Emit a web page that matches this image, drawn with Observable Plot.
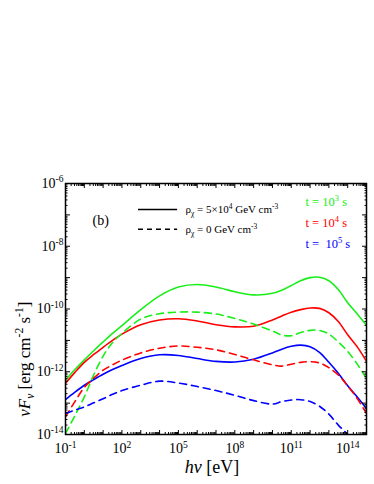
<!DOCTYPE html>
<html><head><meta charset="utf-8">
<script src="https://cdn.jsdelivr.net/npm/d3@7"></script>
<script src="https://cdn.jsdelivr.net/npm/@observablehq/plot@0.6"></script>
<style>html,body{margin:0;padding:0;background:#fff}svg{display:block}
#chart svg, #chart svg text {font-family: "Liberation Serif", "Times New Roman", serif !important;}</style>
</head><body><div id="chart"></div>
<script>
// photon energy grid: log10(hν / eV)
const logE = [-1,-0.5,0,0.5,1,1.5,2,3,4,5,6,7,8,9,10,10.5,11,11.5,12,12.5,13,13.5,14,14.5,15];
// log10(νFν / erg cm^-2 s^-1)
const solid_t1e3 = [-12.27,-11.93,-11.62,-11.33,-11.05,-10.78,-10.53,-10.02,-9.58,-9.3,-9.22,-9.3,-9.45,-9.55,-9.5,-9.4,-9.25,-9.1,-9.0,-8.99,-9.1,-9.38,-9.8,-10.15,-10.52];
const solid_t1e4 = [-12.37,-12.02,-11.7,-11.45,-11.22,-11.0,-10.8,-10.5,-10.35,-10.31,-10.38,-10.5,-10.57,-10.55,-10.35,-10.22,-10.1,-10.02,-9.97,-9.98,-10.12,-10.4,-10.82,-11.2,-11.67];
const solid_t1e5 = [-12.89,-12.65,-12.43,-12.25,-12.08,-11.93,-11.8,-11.58,-11.46,-11.48,-11.58,-11.67,-11.69,-11.6,-11.4,-11.28,-11.19,-11.15,-11.2,-11.38,-11.7,-12.05,-12.45,-12.8,-13.18];
const dash_t1e3 = [-13.97,-13.4,-12.8,-12.1,-11.5,-11.07,-10.78,-10.32,-10.15,-10.1,-10.1,-10.16,-10.3,-10.48,-10.7,-10.83,-10.85,-10.75,-10.68,-10.68,-10.8,-11.05,-11.35,-11.75,-12.22];
const dash_t1e4 = [-13.44,-12.95,-12.5,-12.2,-11.95,-11.78,-11.63,-11.4,-11.25,-11.18,-11.22,-11.3,-11.45,-11.62,-11.78,-11.82,-11.76,-11.7,-11.68,-11.72,-11.87,-12.1,-12.45,-12.85,-13.33];
const dash_t1e5 = [-13.33,-13.22,-13.12,-12.99,-12.86,-12.72,-12.6,-12.43,-12.3,-12.36,-12.47,-12.6,-12.75,-12.92,-13.03,-12.95,-12.9,-12.89,-12.95,-13.1,-13.35,-13.7,-14.0,-14.35,-14.7];

const xTickExps = [-1,2,5,8,11,14];
const yTickExps = [-14,-12,-10,-8,-6];
const xDecades = [-1,0,1,2,3,4,5,6,7,8,9,10,11,12,13,14,15];
const yDecades = [-14,-13,-12,-11,-10,-9,-8,-7,-6];
const legendRho = ["ρ_{χ} = 5×10^{4} GeV cm^{-3}", "ρ_{χ} = 0 GeV cm^{-3}"];
const legendTime = ["t = 10^{3} s", "t = 10^{4} s", "t =  10^{5} s"];
const panelLabel = "(b)";
const xTitle = "*hν* [eV]";
const yTitle = "*ν**F*_{*ν*} [erg cm^{-2} s^{-1}]";

const GREEN = "#19ee19", RED = "#ff0000", BLUE = "#0000ff";
const FONT = "Liberation Serif";

const series = [
  {v: solid_t1e3, c: GREEN, d: null},
  {v: solid_t1e4, c: RED, d: null},
  {v: solid_t1e5, c: BLUE, d: null},
  {v: dash_t1e3, c: GREEN, d: "7,5"},
  {v: dash_t1e4, c: RED, d: "7,5"},
  {v: dash_t1e5, c: BLUE, d: "7,5"}
];

const pow = e => Math.pow(10, e);
const minorOf = decs => decs.slice(0, -1).flatMap(e => [2,3,4,5,6,7,8,9].map(k => k * pow(e)));

const lineMarks = series.map(s => Plot.line(logE.map((e, i) => ({x: pow(e), y: pow(s.v[i])})), {
  x: "x", y: "y", stroke: s.c, strokeWidth: 1.6, strokeDasharray: s.d, curve: "catmull-rom", clip: true
}));

const expFmt = v => "10^{" + Math.round(Math.log10(v)) + "}";
const timeColors = [GREEN, RED, BLUE];

const chart = Plot.plot({
  width: 374, height: 484,
  marginLeft: 65, marginRight: 8, marginTop: 183, marginBottom: 50,
  x: {type: "log", domain: [1e-1, 1e15]},
  y: {type: "log", domain: [1e-14, 1e-6]},
  style: {fontFamily: FONT, background: "#fff", color: "#000"},
  marks: [
    ...lineMarks,
    // inward ticks
    Plot.axisY(yDecades.map(pow), {anchor: "left", tickSize: -5, fill: "none", label: null}),
    Plot.axisY(yDecades.map(pow), {anchor: "right", tickSize: -5, fill: "none", label: null}),
    Plot.axisY(minorOf(yDecades), {anchor: "left", tickSize: -2.5, fill: "none", label: null}),
    Plot.axisY(minorOf(yDecades), {anchor: "right", tickSize: -2.5, fill: "none", label: null}),
    Plot.axisX(xDecades.map(pow), {anchor: "bottom", tickSize: -4, fill: "none", label: null}),
    Plot.axisX(xDecades.map(pow), {anchor: "top", tickSize: -4, fill: "none", label: null}),
    Plot.axisX(minorOf(xDecades), {anchor: "bottom", tickSize: -2, fill: "none", label: null}),
    Plot.axisX(minorOf(xDecades), {anchor: "top", tickSize: -2, fill: "none", label: null}),
    // tick labels
    Plot.axisY(yTickExps.map(pow), {anchor: "left", tickSize: 0, tickPadding: 2, tickFormat: expFmt, fontSize: 14, label: null}),
    Plot.axisX(xTickExps.map(pow), {anchor: "bottom", tickSize: 0, tickPadding: 9, tickFormat: expFmt, fontSize: 14, label: null}),
    Plot.frame({stroke: "#000", strokeWidth: 1.5}),
    // axis titles
    Plot.text([xTitle], {frameAnchor: "bottom", dx: -4, dy: 33, fontSize: 18, text: d => d, textAnchor: "middle", lineAnchor: "middle"}),
    Plot.text([yTitle], {x: () => pow(-3.18), y: () => pow(-11.6), rotate: -90, fontSize: 17, text: d => d, textAnchor: "middle", lineAnchor: "middle", clip: false}),
    // panel label & legend
    Plot.text([panelLabel], {frameAnchor: "top-left", dx: 27, dy: 37, fontSize: 14, textAnchor: "start", lineAnchor: "middle", text: d => d}),
    Plot.ruleY([pow(-6.83)], {x1: pow(2.88), x2: pow(4.96), stroke: "#000", strokeWidth: 1.6}),
    Plot.ruleY([pow(-7.46)], {x1: pow(2.88), x2: pow(4.96), stroke: "#000", strokeWidth: 1.6, strokeDasharray: "5,4"}),
    Plot.text([legendRho[0]], {frameAnchor: "top-left", dx: 120, dy: 26, fontSize: 11, textAnchor: "start", lineAnchor: "middle", text: d => d}),
    Plot.text([legendRho[1]], {frameAnchor: "top-left", dx: 120, dy: 46, fontSize: 11, textAnchor: "start", lineAnchor: "middle", text: d => d}),
    ...legendTime.map((t, i) => Plot.text([t], {frameAnchor: "top-left", dx: 240, dy: 18 + 21 * i, fontSize: 12.5, textAnchor: "start", lineAnchor: "middle", fill: timeColors[i], text: d => d}))
  ]
});
document.getElementById("chart").appendChild(chart);

// rich text: ^{..} superscript, _{..} subscript, *..* italic
const svgNS = "http://www.w3.org/2000/svg";
function richify(el) {
  const s = el.textContent;
  if (!/[\^_*]/.test(s)) return;
  const F = parseFloat(getComputedStyle(el).fontSize) || 12;
  const runs = []; let italic = false, mode = 0, buf = "";
  const push = () => { if (buf) { runs.push({t: buf, italic, mode}); buf = ""; } };
  for (let i = 0; i < s.length; i++) {
    const c = s[i];
    if (c === "*") { push(); italic = !italic; }
    else if ((c === "^" || c === "_") && s[i + 1] === "{") { push(); mode = c === "^" ? 1 : -1; i++; }
    else if (c === "}" && mode !== 0) { push(); mode = 0; }
    else buf += c;
  }
  push();
  while (el.firstChild) el.removeChild(el.firstChild);
  let cur = 0;
  for (const r of runs) {
    const off = r.mode === 1 ? -0.4 * F : r.mode === -1 ? 0.25 * F : 0;
    const ts = document.createElementNS(svgNS, "tspan");
    ts.textContent = r.t;
    if (off !== cur) ts.setAttribute("dy", (off - cur).toFixed(2));
    cur = off;
    if (r.mode) ts.setAttribute("font-size", (0.68 * F).toFixed(2));
    if (r.italic) ts.setAttribute("font-style", "italic");
    el.appendChild(ts);
  }
}
chart.querySelectorAll("text").forEach(richify);
</script>
</body></html>
